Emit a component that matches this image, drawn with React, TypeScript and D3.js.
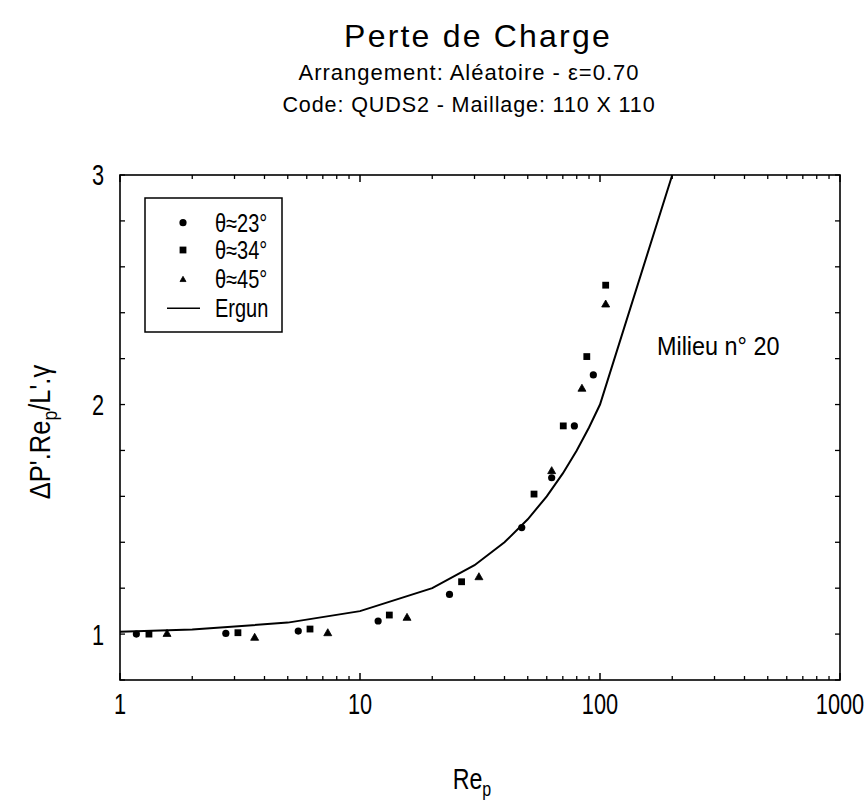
import React from "react";
import * as d3 from "d3";

const RE_CIRCLE = [1.17, 2.76, 5.53, 11.9, 23.6, 47.2, 62.9, 78.2, 93.8];
const Y_CIRCLE = [1.0, 1.003, 1.013, 1.057, 1.173, 1.464, 1.681, 1.907, 2.129];
const RE_SQUARE = [1.32, 3.1, 6.19, 13.25, 26.5, 53.1, 70.3, 88.1, 105.6];
const Y_SQUARE = [1.0, 1.006, 1.022, 1.083, 1.228, 1.61, 1.907, 2.209, 2.52];
const RE_TRI = [1.57, 3.64, 7.34, 15.7, 31.3, 62.9, 84.1, 105.6];
const Y_TRI = [1.003, 0.986, 1.006, 1.073, 1.25, 1.712, 2.071, 2.438];
const RE_ERGUN = [1, 2, 5, 10, 20, 30, 40, 50, 60, 70, 80, 90, 100, 200];
const Y_ERGUN = [1.01, 1.02, 1.05, 1.1, 1.2, 1.3, 1.4, 1.5, 1.6, 1.7, 1.8, 1.9, 2.0, 3.0];
const X_TICK_LABELS = [1, 10, 100, 1000];
const Y_TICK_LABELS = [1, 2, 3];
const LEGEND = ["θ≈23°", "θ≈34°", "θ≈45°", "Ergun"];

const W = 868, H = 807;
const L = 120, R = 840, T = 175, B = 680;
const FONT = "'Liberation Sans', Arial, sans-serif";

function Txt(props: {
  x: number; y: number; sx?: number; size: number; anchor?: string; dy?: string;
  spacing?: number; children: React.ReactNode;
}) {
  const { x, y, sx = 1, size, anchor = "start", dy, spacing, children } = props;
  return (
    <text
      transform={`translate(${x},${y}) scale(${sx},1)`}
      textAnchor={anchor}
      dy={dy}
      fontFamily={FONT}
      fontSize={size}
      letterSpacing={spacing}
      fill="#000"
    >
      {children}
    </text>
  );
}

export default function App() {
  const x = d3.scaleLog().domain([1, 1000]).range([L, R]);
  const y = d3.scaleLinear().domain([0.8, 3]).range([B, T]);

  const minorX: number[] = [];
  for (let d = 1; d < 1000; d *= 10) for (let k = 2; k <= 9; k++) minorX.push(d * k);
  const majorX = X_TICK_LABELS;
  const yTicks = d3.range(0, 12).map((i) => 0.8 + i * 0.2);

  const line = d3
    .line<number>()
    .x((_, i) => x(RE_ERGUN[i]))
    .y((d) => y(d));

  const circ = (cx: number, cy: number, k: string) => <circle key={k} cx={cx} cy={cy} r={3.6} fill="#000" />;
  const sq = (cx: number, cy: number, k: string) => (
    <rect key={k} x={cx - 3.4} y={cy - 3.4} width={6.8} height={6.8} fill="#000" />
  );
  const tri = (cx: number, cy: number, k: string, s = 4) => (
    <path key={k} d={`M${cx},${cy - s}L${cx + s},${cy + s * 0.75}L${cx - s},${cy + s * 0.75}Z`} fill="#000" stroke="#000" strokeWidth={0.8} />
  );

  const legY = [222.7, 250, 279.3, 308.3];

  return (
    <svg width={W} height={H} style={{ position: "absolute", left: 0, top: 0, background: "#fff" }}>
      <rect width={W} height={H} fill="#fff" />
      {/* titles */}
      <Txt x={478} y={47} size={32} anchor="middle" spacing={2.2}>Perte de Charge</Txt>
      <Txt x={469} y={80} size={22} sx={1.0} anchor="middle" spacing={1.0}>Arrangement: Aléatoire - ε=0.70</Txt>
      <Txt x={469} y={112} size={22} sx={0.98} anchor="middle" spacing={0.9}>Code: QUDS2 - Maillage: 110 X 110</Txt>

      {/* frame */}
      <rect x={L} y={T} width={R - L} height={B - T} fill="none" stroke="#000" strokeWidth={1.6} />

      {/* x ticks */}
      {minorX.map((v) => (
        <g key={"mx" + v}>
          <line x1={x(v)} x2={x(v)} y1={B} y2={B - 4} stroke="#000" strokeWidth={1.3} />
          <line x1={x(v)} x2={x(v)} y1={T} y2={T + 4} stroke="#000" strokeWidth={1.3} />
        </g>
      ))}
      {majorX.map((v) => (
        <g key={"Mx" + v}>
          <line x1={x(v)} x2={x(v)} y1={B} y2={B - 7} stroke="#000" strokeWidth={1.5} />
          <line x1={x(v)} x2={x(v)} y1={T} y2={T + 7} stroke="#000" strokeWidth={1.5} />
          <Txt x={x(v)} y={714} size={29} sx={0.75} anchor="middle">{v}</Txt>
        </g>
      ))}
      {/* y ticks */}
      {yTicks.map((v, i) => (
        <g key={"y" + i}>
          <line x1={L} x2={L + 5} y1={y(v)} y2={y(v)} stroke="#000" strokeWidth={1.3} />
          <line x1={R} x2={R - 5} y1={y(v)} y2={y(v)} stroke="#000" strokeWidth={1.3} />
        </g>
      ))}
      {Y_TICK_LABELS.map((v) => (
        <Txt key={"yl" + v} x={104} y={y(v)} dy="0.36em" size={29} sx={0.75} anchor="end">{v}</Txt>
      ))}

      {/* axis labels */}
      <Txt x={472} y={789} size={29} sx={0.8} anchor="middle">
        Re<tspan fontSize={20} dy={7}>p</tspan>
      </Txt>
      <text
        transform={`translate(50,432) rotate(-90) scale(0.88,1)`}
        textAnchor="middle"
        fontFamily={FONT}
        fontSize={29}
        fill="#000"
      >
        ΔP'.Re<tspan fontSize={20} dy={7}>p</tspan>
        <tspan dy={-7}>/L'.γ</tspan>
      </text>

      {/* Ergun line */}
      <path d={line(Y_ERGUN) || ""} fill="none" stroke="#000" strokeWidth={2} />

      {/* points */}
      {RE_CIRCLE.map((v, i) => circ(x(v), y(Y_CIRCLE[i]), "c" + i))}
      {RE_SQUARE.map((v, i) => sq(x(v), y(Y_SQUARE[i]), "s" + i))}
      {RE_TRI.map((v, i) => tri(x(v), y(Y_TRI[i]), "t" + i))}

      {/* annotation */}
      <Txt x={657} y={355} size={26} sx={0.9}>Milieu n° 20</Txt>

      {/* legend */}
      <rect x={145} y={198} width={137} height={134} fill="#fff" stroke="#000" strokeWidth={1.5} />
      {circ(183, legY[0], "lc")}
      {sq(183, legY[1], "ls")}
      {tri(183, legY[2], "lt", 3)}
      <line x1={167} x2={200} y1={legY[3]} y2={legY[3]} stroke="#000" strokeWidth={1.5} />
      {LEGEND.map((t, i) => (
        <Txt key={"lg" + i} x={215} y={legY[i]} dy="0.36em" size={25} sx={0.8}>{t}</Txt>
      ))}
    </svg>
  );
}
